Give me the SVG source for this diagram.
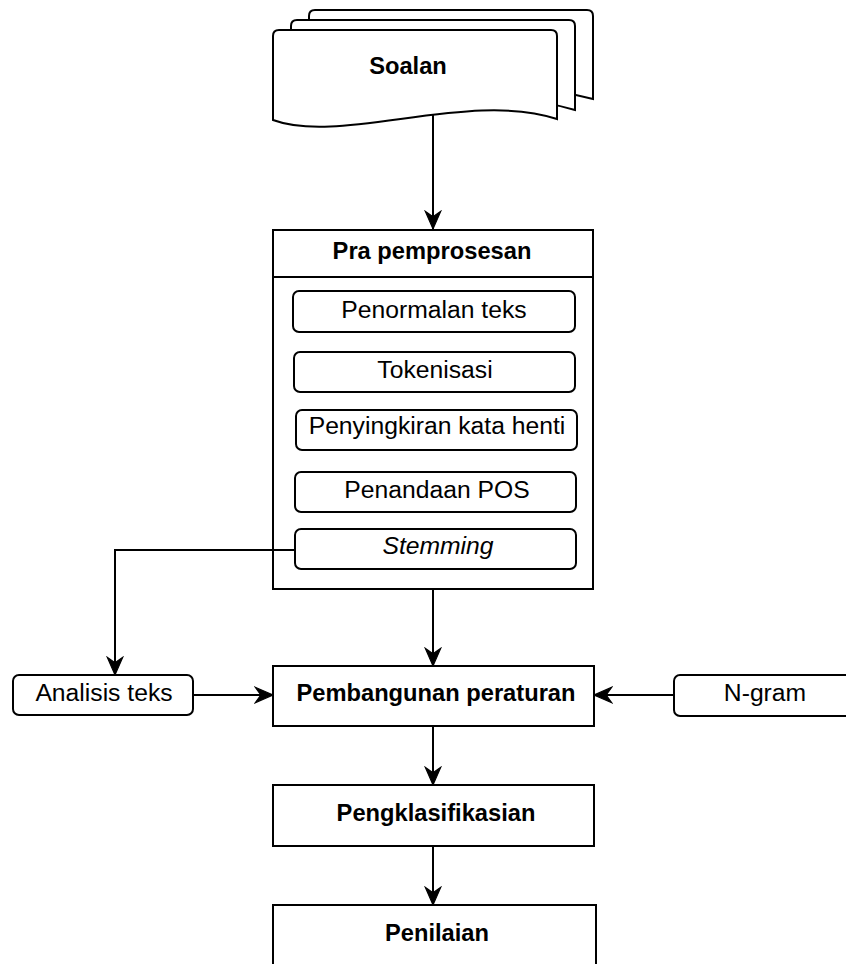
<svg xmlns="http://www.w3.org/2000/svg" width="846" height="964" viewBox="0 0 846 964">
<style>
.s{fill:#fff;stroke:#000;stroke-width:2}
.c{fill:none;stroke:#000;stroke-width:2}
.b{font-family:"Liberation Sans",Arial,sans-serif;font-weight:bold;font-size:23.7px;fill:#000;text-anchor:middle}
.t{font-family:"Liberation Sans",Arial,sans-serif;font-size:24.7px;fill:#000;text-anchor:middle}
</style>
<defs>
<marker id="a" markerUnits="userSpaceOnUse" markerWidth="20" markerHeight="20" viewBox="-17 -9 18 18" refX="0" refY="0" orient="auto">
<path d="M-16,-7 L0,0 L-16,7 L-11,0 Z" fill="#000" stroke="#000" stroke-width="1"/>
</marker>
</defs>
<rect width="846" height="964" fill="#fff"/>
<g id="soalan">
<path class="s" d="M309,16 Q309,10 315,10 L587,10 Q593,10 593,16 L593,99 C557,90 510,81 450,90 C382,99 352,110 309,100 Z"/>
<path class="s" d="M291,26 Q291,20 297,20 L569,20 Q575,20 575,26 L575,110 C539,100 492,91 432,100 C364,109 334,120 291,110 Z"/>
<path class="s" d="M273,36 Q273,30 279,30 L551,30 Q557,30 557,36 L557,119 C470,90 340,145 273,120 Z"/>
<text class="b" x="408" y="74">Soalan</text>
</g>
<g id="pra">
<rect class="s" x="273" y="230" width="320" height="359"/>
<line class="c" x1="273" y1="277" x2="593" y2="277"/>
<text class="b" x="432" y="259">Pra pemprosesan</text>
</g>
<g id="penormalan">
<rect class="s" x="293" y="291" width="282" height="41" rx="6"/>
<text class="t" x="434" y="318">Penormalan teks</text>
</g>
<g id="tokenisasi">
<rect class="s" x="294" y="352" width="281" height="40" rx="6"/>
<text class="t" x="435" y="378">Tokenisasi</text>
</g>
<g id="penyingkiran">
<rect class="s" x="296" y="410" width="281" height="40" rx="6"/>
<text class="t" x="437" y="434">Penyingkiran kata henti</text>
</g>
<g id="pos">
<rect class="s" x="295" y="472" width="281" height="40" rx="6"/>
<text class="t" x="437" y="498">Penandaan POS</text>
</g>
<g id="stemming">
<rect class="s" x="295" y="529" width="281" height="40" rx="6"/>
<text class="t" x="438" y="554" font-style="italic">Stemming</text>
</g>
<g id="analisis">
<rect class="s" x="13" y="675" width="180" height="40" rx="6"/>
<text class="t" x="104" y="701">Analisis teks</text>
</g>
<g id="pembangunan">
<rect class="s" x="273" y="666" width="321" height="60"/>
<text class="b" x="436" y="701">Pembangunan peraturan</text>
</g>
<g id="ngram">
<rect class="s" x="674" y="675" width="186" height="41" rx="6"/>
<text class="t" x="765" y="701">N-gram</text>
</g>
<g id="pengklasifikasian">
<rect class="s" x="273" y="785" width="321" height="61"/>
<text class="b" x="436" y="821">Pengklasifikasian</text>
</g>
<g id="penilaian">
<rect class="s" x="273" y="905" width="323" height="75"/>
<text class="b" x="437" y="941">Penilaian</text>
</g>
<g id="connectors">
<path class="c" d="M433,115 V229" marker-end="url(#a)"/>
<path class="c" d="M295,550 H115 V675" marker-end="url(#a)"/>
<path class="c" d="M193,695 H273" marker-end="url(#a)"/>
<path class="c" d="M674,695 H594" marker-end="url(#a)"/>
<path class="c" d="M433,589 V666" marker-end="url(#a)"/>
<path class="c" d="M433,726 V785" marker-end="url(#a)"/>
<path class="c" d="M433,846 V905" marker-end="url(#a)"/>
</g>
</svg>
